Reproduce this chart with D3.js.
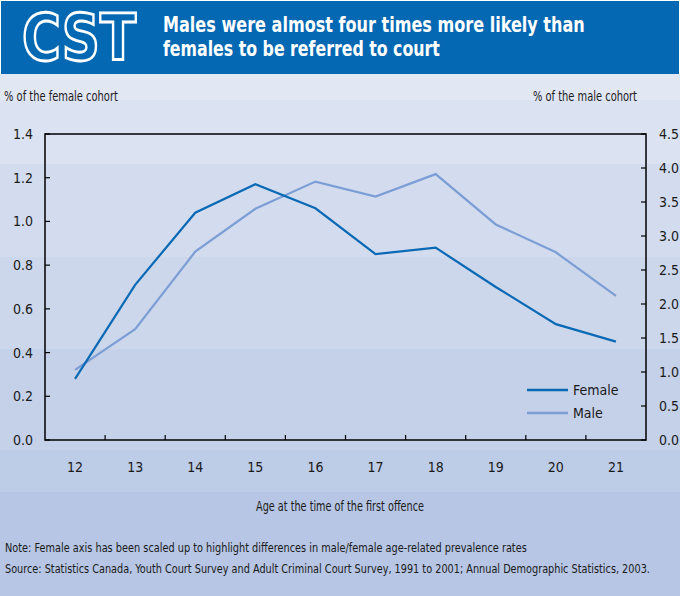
<!DOCTYPE html>
<html>
<head>
<meta charset="utf-8">
<script src="https://cdn.jsdelivr.net/npm/d3@7"></script>
<style>
  body { margin: 0; background: #fff; }
  svg text { font-family: "Liberation Sans Narrow", "DejaVu Sans Condensed", "Roboto", sans-serif; fill: #1a1a1a; }
</style>
</head>
<body>
<div class="chart"></div>
<script>
const ages = ["12", "13", "14", "15", "16", "17", "18", "19", "20", "21"];
const female = [0.28, 0.71, 1.04, 1.17, 1.06, 0.85, 0.88, 0.70, 0.53, 0.45];
const male = [1.03, 1.63, 2.77, 3.40, 3.80, 3.58, 3.91, 3.17, 2.76, 2.12];
const femaleTicks = [0, 0.2, 0.4, 0.6, 0.8, 1.0, 1.2, 1.4];
const maleTicks = [0, 0.5, 1.0, 1.5, 2.0, 2.5, 3.0, 3.5, 4.0, 4.5];

const width = 680, height = 596;
const margin = {top: 134, right: 34, bottom: 156, left: 45};
const innerW = width - margin.left - margin.right,
  innerH = height - margin.top - margin.bottom;

const svg = d3.select(".chart").append("svg")
  .attr("width", width)
  .attr("height", height);

// squeeze a text horizontally to a given width (the original uses a condensed face)
function fitText(sel, x, y, w) {
  sel.each(function() {
    const k = w / this.getComputedTextLength();
    d3.select(this).attr("x", 0).attr("y", 0)
      .attr("transform", "translate(" + x + "," + y + ") scale(" + k + ",1)");
  });
}

// stepped gradient background
const bands = [74, 100, 164, 257, 349, 450, 492, 596];
const bandColor = d3.interpolateRgb("#e2e7f4", "#b6c6e4");
for (let i = 0; i < bands.length - 1; i++) {
  svg.append("rect")
    .attr("x", 0).attr("y", bands[i])
    .attr("width", width).attr("height", bands[i + 1] - bands[i])
    .attr("fill", bandColor(i / (bands.length - 2)));
}

// title bar
svg.append("rect")
  .attr("x", 1).attr("y", 1).attr("width", width - 2).attr("height", 73)
  .attr("fill", "#0568b3");

svg.append("text")
  .style("font-family", "DejaVu Sans")
  .style("font-weight", "bold")
  .style("font-size", "64px")
  .style("fill", "none")
  .style("stroke", "#fff")
  .style("stroke-width", 2.8)
  .text("CST")
  .call(fitText, 22, 60, 114);

const titleLines = ["Males were almost four times more likely than", "females to be referred to court"];
const titleLens = [422, 277];
titleLines.forEach((t, i) => {
  svg.append("text")
    .style("font-size", "20.5px")
    .style("font-weight", "bold")
    .style("fill", "#fff")
    .text(t)
    .call(fitText, 163, 32 + i * 24, titleLens[i]);
});

const g = svg.append("g")
  .attr("transform", "translate(" + margin.left + "," + margin.top + ")");

const x = d3.scaleBand().domain(ages).range([0, innerW]);
const yF = d3.scaleLinear().domain([0, 1.4]).range([innerH, 0]);
const yM = d3.scaleLinear().domain([0, 4.5]).range([innerH, 0]);

// frame
g.append("rect")
  .attr("width", innerW).attr("height", innerH)
  .attr("fill", "none").attr("stroke", "#000").attr("stroke-width", 1.5);

// ticks
g.selectAll(".ltick").data(femaleTicks).enter().append("line")
  .attr("x1", 0).attr("x2", 5)
  .attr("y1", d => yF(d)).attr("y2", d => yF(d))
  .attr("stroke", "#000").attr("stroke-width", 1.2);
g.selectAll(".rtick").data(maleTicks).enter().append("line")
  .attr("x1", innerW - 5).attr("x2", innerW)
  .attr("y1", d => yM(d)).attr("y2", d => yM(d))
  .attr("stroke", "#000").attr("stroke-width", 1.2);
g.selectAll(".btick").data(ages.slice(1)).enter().append("line")
  .attr("x1", d => x(d)).attr("x2", d => x(d))
  .attr("y1", innerH - 5).attr("y2", innerH)
  .attr("stroke", "#000").attr("stroke-width", 1.2);

// tick labels
g.selectAll(".llab").data(femaleTicks).enter().append("text")
  .attr("x", -12).attr("y", d => yF(d) + 5)
  .attr("text-anchor", "end")
  .style("font-size", "14px")
  .text(d3.format(".1f"));
g.selectAll(".rlab").data(maleTicks).enter().append("text")
  .attr("x", innerW + 13).attr("y", d => yM(d) + 5)
  .attr("text-anchor", "start")
  .style("font-size", "14px")
  .text(d3.format(".1f"));
g.selectAll(".xlab").data(ages).enter().append("text")
  .attr("x", d => x(d) + x.bandwidth() / 2).attr("y", innerH + 32)
  .attr("text-anchor", "middle")
  .style("font-size", "14px")
  .text(d => d);

// lines
const cx = (d, i) => x(ages[i]) + x.bandwidth() / 2;
const lineF = d3.line().x(cx).y(d => yF(d));
const lineM = d3.line().x(cx).y(d => yM(d));

g.append("path").datum(male)
  .attr("d", lineM)
  .attr("fill", "none").attr("stroke", "#7c9ed5").attr("stroke-width", 2.2);
g.append("path").datum(female)
  .attr("d", lineF)
  .attr("fill", "none").attr("stroke", "#0a69b4").attr("stroke-width", 2.2);

// legend
const legend = [{name: "Female", color: "#0a69b4"}, {name: "Male", color: "#7c9ed5"}];
const lg = g.selectAll(".legend").data(legend).enter().append("g")
  .attr("transform", (d, i) => "translate(" + 482 + "," + (256 + i * 23) + ")");
lg.append("line").attr("x1", 0).attr("x2", 41)
  .attr("stroke", d => d.color).attr("stroke-width", 2.4);
lg.append("text").attr("x", 46).attr("y", 5)
  .style("font-size", "14px")
  .text(d => d.name);

// axis titles
svg.append("text").style("font-size", "14px").text("% of the female cohort")
  .call(fitText, 4, 101, 114);
svg.append("text").style("font-size", "14px").text("% of the male cohort")
  .call(fitText, 533, 101, 104);
svg.append("text").attr("text-anchor", "middle")
  .style("font-size", "14px").text("Age at the time of the first offence")
  .call(fitText, 340, 511, 168);

// notes
svg.append("text").style("font-size", "13px")
  .text("Note: Female axis has been scaled up to highlight differences in male/female age-related prevalence rates")
  .call(fitText, 5, 552, 522);
svg.append("text").style("font-size", "13px")
  .text("Source: Statistics Canada, Youth Court Survey and Adult Criminal Court Survey, 1991 to 2001; Annual Demographic Statistics, 2003.")
  .call(fitText, 5, 573, 646);
</script>
</body>
</html>
